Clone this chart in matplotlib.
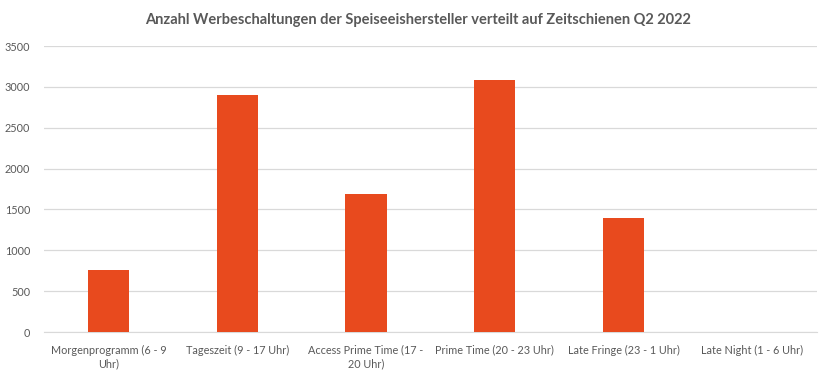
# -*- coding: utf-8 -*-
# Werbeschaltungen der Speiseeishersteller nach Zeitschiene, Q2 2022
from matplotlib import pyplot as plt

zeitschienen = ['Morgenprogramm (6 - 9\nUhr)', 'Tageszeit (9 - 17 Uhr)',
                'Access Prime Time (17 -\n20 Uhr)', 'Prime Time (20 - 23 Uhr)',
                'Late Fringe (23 - 1 Uhr)', 'Late Night (1 - 6 Uhr)']
schaltungen = [755, 2905, 1695, 3085, 1390, 0]
y_ticks = [0, 500, 1000, 1500, 2000, 2500, 3000, 3500]

plt.rcParams['font.family'] = ['Lato', 'DejaVu Sans']
texto = '#595959'

fig = plt.figure(figsize=(8.32, 3.79), dpi=100)
ax = fig.add_axes([0.0529, 0.124, 0.929, 0.7546])

indice = range(len(zeitschienen))
ax.bar(indice, schaltungen, width=0.32, color='#E84A1E', zorder=3)

ax.set_xlim(-0.5, len(zeitschienen) - 0.5)
ax.set_ylim(0, 3500)
ax.set_yticks(y_ticks)
ax.set_xticks(list(indice))
ax.set_xticklabels(zeitschienen, fontsize=7.8, color=texto, linespacing=1.3)
ax.tick_params(axis='y', labelsize=7.8, labelcolor=texto, length=0, pad=10)
ax.tick_params(axis='x', length=0, pad=9)
ax.grid(axis='y', color='#D9D9D9', linewidth=0.9, zorder=0)

for lado in ['top', 'right', 'left']:
    ax.spines[lado].set_visible(False)
ax.spines['bottom'].set_color('#D9D9D9')

fig.suptitle('Anzahl Werbeschaltungen der Speiseeishersteller verteilt auf Zeitschienen Q2 2022',
             x=0.502, y=0.965, fontsize=10.5, fontweight='bold', color=texto)

fig.savefig('out.png', dpi=100)
